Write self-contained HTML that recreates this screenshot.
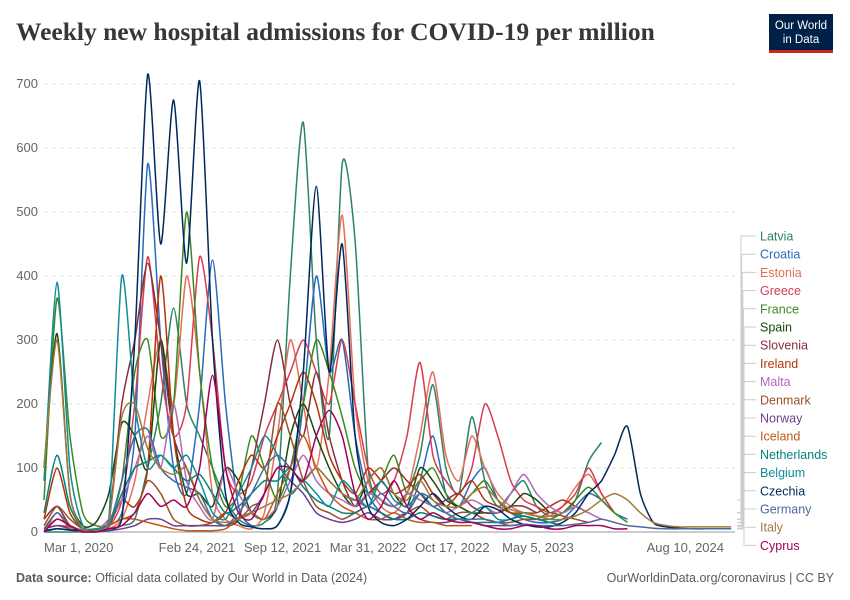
<!DOCTYPE html>
<html><head><meta charset="utf-8"><style>
body{margin:0;background:#fff;}
svg{display:block;font-family:"Liberation Sans",sans-serif;}
</style></head><body>
<svg id="chart" width="850" height="600">
<text x="16" y="40" font-family="Liberation Serif, serif" font-size="25.5" font-weight="bold" fill="#373737">Weekly new hospital admissions for COVID-19 per million</text>
<g>
<rect x="769" y="14" width="64" height="36" fill="#002147"/>
<rect x="769" y="50" width="64" height="3" fill="#ce261e"/>
<text x="801" y="29" font-size="11.5" fill="#fff" text-anchor="middle">Our World</text>
<text x="801" y="43" font-size="11.5" fill="#fff" text-anchor="middle">in Data</text>
</g>
<g id="grid"></g><g id="series"></g><g id="legend"></g>
<text x="16" y="582" font-size="12.5" fill="#5b5b5b"><tspan font-weight="bold">Data source:</tspan> Official data collated by Our World in Data (2024)</text>
<text x="834" y="582" font-size="12.5" fill="#5b5b5b" text-anchor="end">OurWorldinData.org/coronavirus | CC BY</text>
</svg>
<script>
const yTicks=[0,100,200,300,400,500,600,700];
const xTickLabels=["Mar 1, 2020","Feb 24, 2021","Sep 12, 2021","Mar 31, 2022","Oct 17, 2022","May 5, 2023","Aug 10, 2024"];
const xTickMonths=[0,11.8,18.4,25,31.5,38.1,53.3];
const countries=["Latvia","Croatia","Estonia","Greece","France","Spain","Slovenia","Ireland","Malta","Denmark","Norway","Iceland","Netherlands","Belgium","Czechia","Germany","Italy","Cyprus"];
const colors=["#2c8465","#286bbb","#e56e5a","#d73c50","#3c8a1f","#18470f","#883039","#b13507","#b16bb6","#9a5129","#6d3e91","#c05917","#00847e","#0f8d99","#00295b","#4c6a9c","#a2793b","#a2005a"];
const latvia=[0,0,0,0,0,2,10,20,100,200,350,200,150,100,50,20,10,15,60,400,640,300,150,575,455,100,50,40,60,120,230,100,60,180,80,40,60,80,40,25,30,50,110,140];
const croatia=[0,5,3,1,2,10,30,150,575,300,100,60,200,425,200,40,10,5,10,60,200,400,250,300,150,60,30,20,30,80,150,60,40,80,100,50,30,20,15,15,20,40,60,50,30,20];
const estonia=[5,20,10,2,2,5,20,80,200,300,200,400,250,60,20,10,5,30,150,300,200,100,250,495,200,80,40,30,60,150,250,120,80,150,100,60,40,30,25,25,40,70,90,60,30];
const greece=[5,10,8,3,2,8,50,200,430,250,150,200,430,300,100,60,80,150,200,250,300,250,200,300,200,100,60,80,150,265,120,80,60,100,200,150,80,50,40,30,40,60,100,60,30];
const france=[50,365,150,30,10,15,80,250,300,150,200,500,250,100,40,60,150,100,50,100,200,300,250,180,100,60,80,120,60,80,100,60,40,60,80,50,30,25,20,20,30,50,70,50,30,15];
const spain=[100,310,60,10,15,60,170,150,100,300,150,60,60,40,100,80,30,20,40,150,200,150,100,60,40,80,100,60,40,100,80,50,40,30,30,30,40,60,50,30];
const slovenia=[20,40,10,2,3,20,200,300,420,300,150,100,50,20,10,20,100,200,300,200,150,250,150,80,40,60,80,100,80,60,40,50,60,40,30,30,40,40,30];
const ireland=[20,100,30,5,3,10,50,40,100,400,150,40,20,15,30,80,120,100,150,200,250,200,120,80,60,100,80,60,70,90,60,40,60,80,50,40,30,30,30,40,50,40,30];
const malta=[0,20,10,2,2,20,50,100,150,100,200,80,40,20,100,60,30,20,40,80,120,80,60,50,40,60,50,40,60,50,40,30,40,50,40,30,60,90,60,40,30,40,30,20];
const denmark=[10,40,20,5,5,10,20,30,80,60,20,10,10,15,30,20,40,60,200,150,80,40,30,20,30,40,30,20,30,40,25,20,30,30,20,15,15,20,20,30,25,20,15];
const norway=[5,10,5,1,1,2,5,10,20,20,10,10,10,10,10,20,30,60,100,80,60,30,20,15,20,30,20,20,30,20,15,15,20,15,10,10,10,12,10];
const iceland=[0,30,5,0,0,10,20,20,15,10,5,2,2,2,5,20,30,20,60,100,150,100,60,40,30,20,20,30,20,15,15,10,10,10];
const netherlands=[30,120,40,5,2,10,60,100,110,120,100,80,90,60,30,40,60,80,80,100,70,50,40,30,30,40,30,20,20,30,25,20,20,15,15,15,20,25,20,15,10];
const belgium=[80,390,100,10,5,20,400,200,100,120,100,120,80,30,20,60,100,150,120,60,80,60,40,80,60,40,80,50,40,60,40,30,20,30,40,20,20,30,25,20];
const czechia=[2,5,3,2,2,5,20,300,715,450,675,420,705,300,60,15,8,5,10,60,250,540,250,450,150,40,15,10,20,40,60,40,25,20,40,35,20,12,8,8,15,30,60,80,120,165,60,15,8,6,5,5,5,5];
const germany=[5,30,10,2,2,10,80,150,160,100,80,70,60,20,10,30,60,100,120,100,80,100,80,60,50,40,60,40,30,60,50,30,20,20,20,15,10,12,10,10,10,12,15,20,15,10,8,6,5,5,5,5,5,5];
const italy=[100,300,60,5,2,15,180,200,130,100,90,100,50,20,15,20,30,40,50,60,80,100,80,60,50,80,100,60,50,80,50,40,40,60,70,50,35,30,25,20,20,25,35,50,60,50,30,15,10,8,8,8,8,8];
const cyprus=[0,20,10,0,0,5,10,30,60,40,50,40,100,245,100,30,20,60,100,100,80,150,190,150,60,20,40,80,40,20,30,20,15,15,10,5,5,10,10,5,5,10,10,10,5,5];
const allSeries=[latvia,croatia,estonia,greece,france,spain,slovenia,ireland,malta,denmark,norway,iceland,netherlands,belgium,czechia,germany,italy,cyprus];

const NS="http://www.w3.org/2000/svg";
const X0=44,X1=735,Y0=532,Y1=84;
const xs=m=>X0+m*(X1-X0)/53.3;
const ys=v=>Y0-v*(Y0-Y1)/700;
function mk(t,a,p){const e=document.createElementNS(NS,t);for(const k in a)e.setAttribute(k,a[k]);p.appendChild(e);return e;}
const grid=document.getElementById('grid');
yTicks.forEach(v=>{
  const l=mk('line',{x1:X0,x2:X1,y1:ys(v),y2:ys(v),stroke:v?'#ddd':'#999','stroke-dasharray':v?'4,4':'none'},grid);
  
  
  const t=mk('text',{x:38,y:ys(v)+4,'font-size':13,fill:'#666','text-anchor':'end'},grid);
  t.textContent=v;
  
  
});
xTickLabels.forEach((s,i)=>{
  const x=xs(xTickMonths[i]);
  const anc=i==0?'start':(i==xTickLabels.length-1?'end':'middle');
  const t=mk('text',{x:i==xTickLabels.length-1?x-11:x,y:552,'font-size':13,fill:'#666','text-anchor':anc},grid);
  t.textContent=s;
  
  
});
function smooth(pts){
  let d='M'+pts[0][0].toFixed(1)+','+pts[0][1].toFixed(1);
  for(let i=0;i<pts.length-1;i++){
    const p0=pts[i-1]||pts[i],p1=pts[i],p2=pts[i+1],p3=pts[i+2]||p2;
    const k=0.12;
    let c1y=p1[1]+(p2[1]-p0[1])*k,c2y=p2[1]-(p3[1]-p1[1])*k;
    c1y=Math.min(c1y,Y0);c2y=Math.min(c2y,Y0);
    d+=` C${(p1[0]+(p2[0]-p0[0])*k).toFixed(1)},${c1y.toFixed(1)} ${(p2[0]-(p3[0]-p1[0])*k).toFixed(1)},${c2y.toFixed(1)} ${p2[0].toFixed(1)},${p2[1].toFixed(1)}`;
  }
  return d;
}
const sg=document.getElementById('series'),lg=document.getElementById('legend');
allSeries.forEach((d,i)=>{
  const pts=d.map((v,m)=>[xs(m),ys(v)]);
  const p=mk('path',{d:smooth(pts),fill:'none',stroke:colors[i],'stroke-width':1.5,'stroke-linejoin':'round'},sg);
  
  
});
countries.forEach((c,i)=>{
  const ly=236+i*18.2;
  const vx=741+(i%6)*0.6;
  const ey=ys(allSeries[i][allSeries[i].length-1]);
  mk('polyline',{points:`737,${Math.max(ey,500)} ${vx},${Math.max(ey,500)} ${vx},${ly} 756,${ly}`,fill:'none',stroke:'#ccc','stroke-width':1},lg);
  const t=mk('text',{x:760,y:ly+4.5,'font-size':12.5,fill:colors[i]},lg);
  t.textContent=c;
  
  
});
</script>
</body></html>
